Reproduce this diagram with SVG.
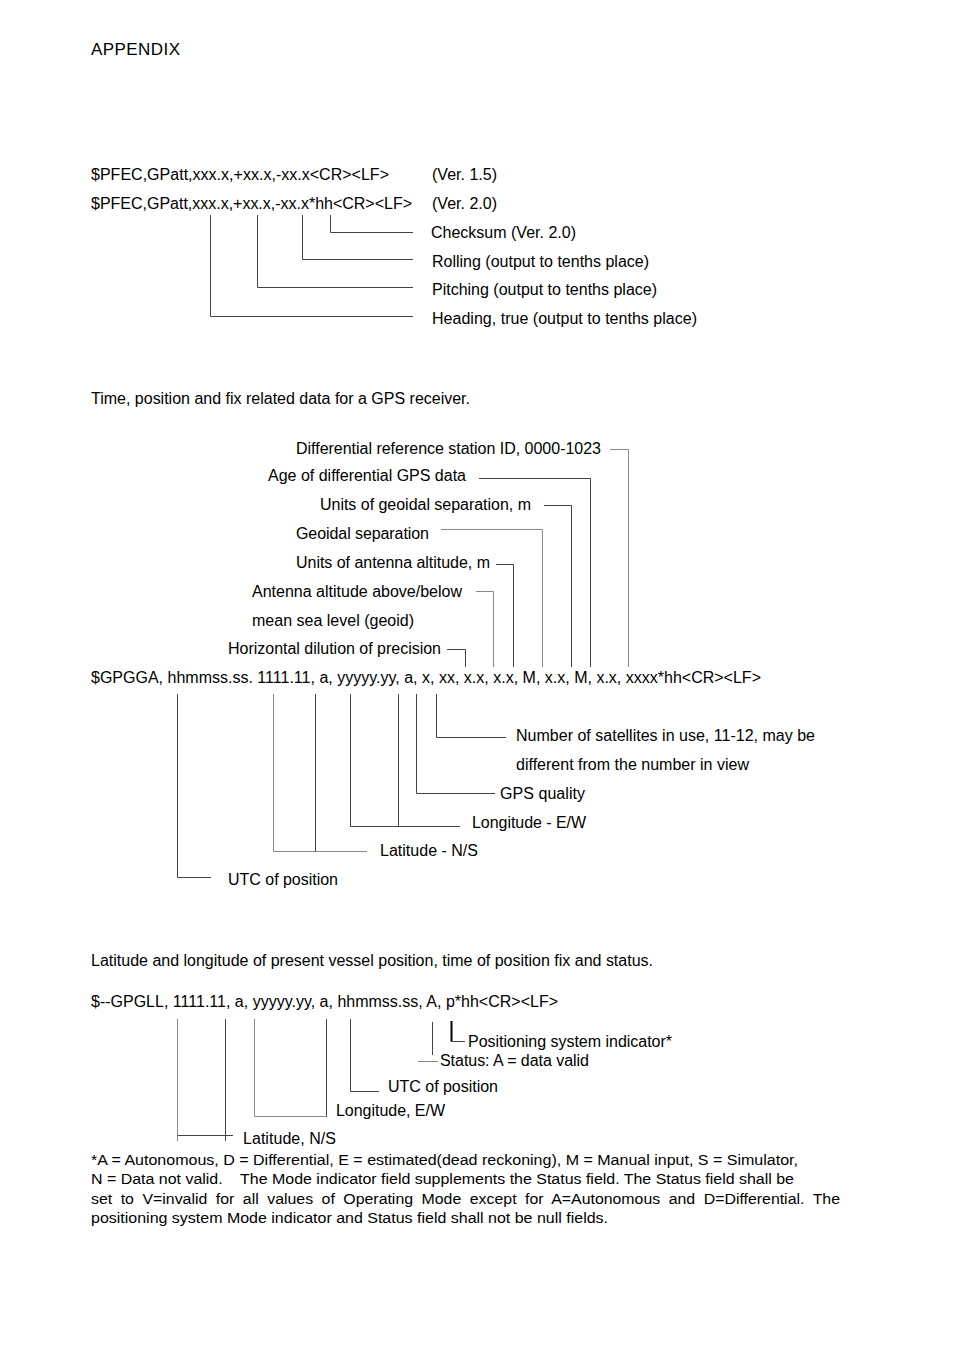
<svg xmlns="http://www.w3.org/2000/svg" width="954" height="1351" viewBox="0 0 954 1351">
<style>
text{font-family:"Liberation Sans",Arial,sans-serif;font-size:16px;fill:#000}
.h{font-size:17px}
.fn{font-size:15.5px}
.c{fill:none;stroke:#444;stroke-width:1}
.lt{fill:none;stroke:#888;stroke-width:1}
.bd{fill:none;stroke:#000;stroke-width:2}
</style>
<rect width="954" height="1351" fill="#fff"/>
<g id="header"><text class="h" x="91" y="55" textLength="89">APPENDIX</text></g>

<g id="pfec">
<text x="91" y="180" textLength="298">$PFEC,GPatt,xxx.x,+xx.x,-xx.x&lt;CR&gt;&lt;LF&gt;</text>
<text x="432" y="180" textLength="65">(Ver. 1.5)</text>
<text x="91" y="209" textLength="321">$PFEC,GPatt,xxx.x,+xx.x,-xx.x*hh&lt;CR&gt;&lt;LF&gt;</text>
<text x="432" y="209" textLength="65">(Ver. 2.0)</text>
</g>
<g id="pfec-checksum"><text x="431" y="238" textLength="145">Checksum (Ver. 2.0)</text></g>
<g id="pfec-rolling"><text x="432" y="267" textLength="217">Rolling (output to tenths place)</text></g>
<g id="pfec-pitching"><text x="432" y="295" textLength="225">Pitching (output to tenths place)</text></g>
<g id="pfec-heading"><text x="432" y="324" textLength="265">Heading, true (output to tenths place)</text></g>

<g id="gga-intro"><text x="91" y="404" textLength="379">Time, position and fix related data for a GPS receiver.</text></g>
<g id="gga-diffid"><text x="296" y="454" textLength="305">Differential reference station ID, 0000-1023</text></g>
<g id="gga-age"><text x="268" y="481" textLength="198">Age of differential GPS data</text></g>
<g id="gga-geounits"><text x="320" y="510" textLength="211">Units of geoidal separation, m</text></g>
<g id="gga-geosep"><text x="296" y="539" textLength="133">Geoidal separation</text></g>
<g id="gga-altunits"><text x="296" y="568" textLength="194">Units of antenna altitude, m</text></g>
<g id="gga-alt"><text x="252" y="597" textLength="210">Antenna altitude above/below</text><text x="252" y="626" textLength="162">mean sea level (geoid)</text></g>
<g id="gga-hdop"><text x="228" y="654" textLength="213">Horizontal dilution of precision</text></g>
<g id="gga-sentence"><text x="91" y="683" textLength="670">$GPGGA, hhmmss.ss. 1111.11, a, yyyyy.yy, a, x, xx, x.x, x.x, M, x.x, M, x.x, xxxx*hh&lt;CR&gt;&lt;LF&gt;</text></g>
<g id="gga-sats"><text x="516" y="741" textLength="299">Number of satellites in use, 11-12, may be</text><text x="516" y="770" textLength="233">different from the number in view</text></g>
<g id="gga-quality"><text x="500" y="799" textLength="85">GPS quality</text></g>
<g id="gga-lon"><text x="472" y="828" textLength="114">Longitude - E/W</text></g>
<g id="gga-lat"><text x="380" y="856" textLength="98">Latitude - N/S</text></g>
<g id="gga-utc"><text x="228" y="885" textLength="110">UTC of position</text></g>

<g id="gll-intro"><text x="91" y="966" textLength="562">Latitude and longitude of present vessel position, time of position fix and status.</text></g>
<g id="gll-sentence"><text x="91" y="1007" textLength="467">$--GPGLL, 1111.11, a, yyyyy.yy, a, hhmmss.ss, A, p*hh&lt;CR&gt;&lt;LF&gt;</text></g>
<g id="gll-mode"><text x="468" y="1047" textLength="204">Positioning system indicator*</text></g>
<g id="gll-status"><text x="440" y="1066" textLength="149">Status: A = data valid</text></g>
<g id="gll-utc"><text x="388" y="1092" textLength="110">UTC of position</text></g>
<g id="gll-lon"><text x="336" y="1116" textLength="109">Longitude, E/W</text></g>
<g id="gll-lat"><text x="243" y="1144" textLength="93">Latitude, N/S</text></g>

<g id="footnote">
<text class="fn" x="91" y="1165" textLength="707" lengthAdjust="spacingAndGlyphs">*A = Autonomous, D = Differential, E = estimated(dead reckoning), M = Manual input, S = Simulator,</text>
<text class="fn" x="91" y="1184" textLength="703" lengthAdjust="spacingAndGlyphs" xml:space="preserve">N = Data not valid.    The Mode indicator field supplements the Status field. The Status field shall be</text>
<text class="fn" x="91" y="1204" textLength="749" lengthAdjust="spacingAndGlyphs" word-spacing="4">set to V=invalid for all values of Operating Mode except for A=Autonomous and D=Differential. The</text>
<text class="fn" x="91" y="1223" textLength="517" lengthAdjust="spacingAndGlyphs">positioning system Mode indicator and Status field shall not be null fields.</text>
</g>

<g id="connectors">
<!-- PFEC -->
<polyline class="c" points="330.5,215 330.5,232.5 413,232.5"/>
<polyline class="c" points="302.5,215 302.5,259.5 413,259.5"/>
<polyline class="c" points="257.5,215 257.5,287.5 413,287.5"/>
<polyline class="c" points="210.5,215 210.5,316.5 413,316.5"/>
<!-- GGA upper -->
<polyline class="lt" points="610,449.5 628.5,449.5 628.5,667"/>
<polyline class="c" points="479,478.5 590.5,478.5 590.5,667"/>
<polyline class="c" points="544,505.5 571.5,505.5 571.5,667"/>
<polyline class="lt" points="441,529.5 542.5,529.5 542.5,667"/>
<polyline class="c" points="496,564.5 513.5,564.5 513.5,667"/>
<polyline class="lt" points="476,591.5 493.5,591.5 493.5,667"/>
<polyline class="c" points="447,649.5 465.5,649.5 465.5,667"/>
<!-- GGA lower -->
<polyline class="c" points="177.5,694 177.5,877.5 211,877.5"/>
<polyline class="lt" points="273.5,694 273.5,851.5 367,851.5"/>
<line class="c" x1="315.5" y1="694" x2="315.5" y2="851.5"/>
<polyline class="c" points="350.5,694 350.5,826.5 460,826.5"/>
<line class="c" x1="398.5" y1="694" x2="398.5" y2="826.5"/>
<polyline class="c" points="416.5,694 416.5,793.5 495,793.5"/>
<polyline class="c" points="436.5,694 436.5,737.5 506,737.5"/>
<!-- GLL -->
<line class="lt" x1="177.5" y1="1019" x2="177.5" y2="1141"/>
<line class="c" x1="177.5" y1="1135.5" x2="233" y2="1135.5"/>
<line class="c" x1="225.5" y1="1019" x2="225.5" y2="1141"/>
<polyline class="lt" points="254.5,1019 254.5,1116.5 327,1116.5"/>
<line class="c" x1="326.5" y1="1019" x2="326.5" y2="1116.5"/>
<polyline class="c" points="350.5,1019 350.5,1091.5 379,1091.5"/>
<line class="c" x1="432.5" y1="1022" x2="432.5" y2="1055"/>
<line class="lt" x1="418" y1="1061.5" x2="438" y2="1061.5"/>
<polyline class="bd" points="451.5,1021 451.5,1041.5"/>
<line class="c" x1="451" y1="1041.5" x2="465" y2="1041.5"/>
</g>
</svg>
